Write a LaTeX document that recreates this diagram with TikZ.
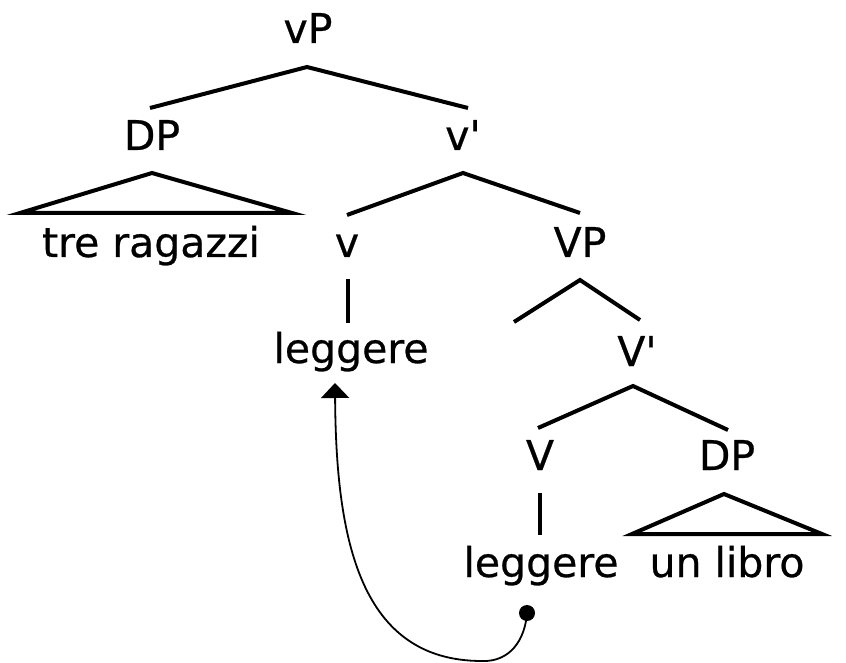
\documentclass[tikz,border=0pt]{standalone}
\usepackage{fontspec}
\setmainfont[FakeBold=0.6]{DejaVu Sans}
\usetikzlibrary{arrows.meta}
\begin{document}
\begin{tikzpicture}[x=1pt,y=-1pt,
  lbl/.style={font=\fontsize{41}{44}\selectfont, inner sep=0pt, anchor=base},
  branch/.style={line width=4pt},
  movearrow/.style={line width=1.8pt, -{Triangle[length=15pt,width=28pt]}}]
\useasboundingbox (0,0) rectangle (846,663);

% category labels and words
\node[lbl] (vP)   at (308,43)  {vP};
\node[lbl] (DPa)  at (152,150) {DP};
\node[lbl] (vbar) at (463,150) {v\textquotesingle};
\node[lbl] (tre)  at (151,257) {tre ragazzi};
\node[lbl] (v)    at (347,257) {v};
\node[lbl] (VP)   at (580,257) {VP};
\node[lbl] (leg1) at (351,363) {leggere};
\node[lbl] (Vbar) at (637,366) {V\textquotesingle};
\node[lbl] (V)    at (540,470) {V};
\node[lbl] (DPb)  at (727,470) {DP};
\node[lbl] (leg2) at (541,577) {leggere};
\node[lbl] (libro) at (727,577) {un libro};

% branch end points
\coordinate (vPtop) at (307,67);
\coordinate (vPl) at (150,108);
\coordinate (vPr) at (468,108);
\coordinate (DPtop) at (152,173);
\coordinate (DPl) at (20,213);
\coordinate (DPr) at (292,213);
\coordinate (vbtop) at (463,173);
\coordinate (vbl) at (347,215);
\coordinate (vbr) at (580,213);
\coordinate (vtop) at (348,279);
\coordinate (vbot) at (348,323);
\coordinate (VPtop) at (580,280);
\coordinate (VPl) at (514,322);
\coordinate (VPr) at (640,320);
\coordinate (Vbtop) at (633,386);
\coordinate (Vbl) at (538,428);
\coordinate (Vbr) at (728,430);
\coordinate (Vtop) at (540,493);
\coordinate (Vbot) at (540,535);
\coordinate (DPbtop) at (724,494);
\coordinate (DPbl) at (632,534);
\coordinate (DPbr) at (822,534);

% tree branches
\draw[branch] (vPl) -- (vPtop) -- (vPr);
\draw[branch, line join=miter] (DPl) -- (DPtop) -- (DPr) -- cycle;
\draw[branch] (vbl) -- (vbtop) -- (vbr);
\draw[branch] (vtop) -- (vbot);
\draw[branch] (VPl) -- (VPtop) -- (VPr);
\draw[branch] (Vbl) -- (Vbtop) -- (Vbr);
\draw[branch] (Vtop) -- (Vbot);
\draw[branch, line join=miter] (DPbl) -- (DPbtop) -- (DPbr) -- cycle;

% head movement of the verb
\coordinate (trace) at (527,613);
\coordinate (tip) at (335,383);
\fill (trace) circle (8pt);
\draw[movearrow] (trace) .. controls (525,640) and (510,662) .. (482,661)
  .. controls (360,661) and (336,540) .. (tip);
\end{tikzpicture}
\end{document}
